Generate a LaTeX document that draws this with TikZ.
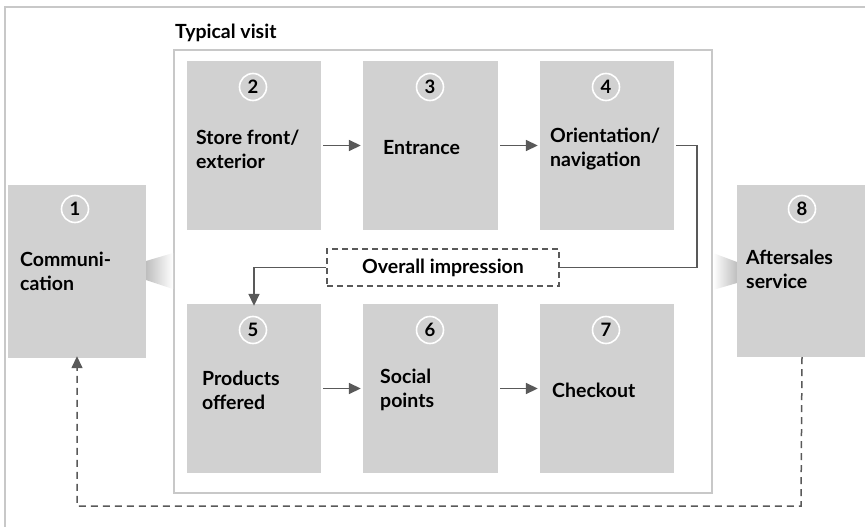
\documentclass[tikz,border=0pt]{standalone}
\usepackage{fontspec}
\setmainfont{Lato}
\usetikzlibrary{arrows.meta,calc}
\definecolor{boxgray}{HTML}{D1D1D1}
\definecolor{framegray}{HTML}{C8C8C8}
\definecolor{arrgray}{HTML}{595959}
\definecolor{fadegray}{HTML}{BEBEBE}
\tikzset{
  stepbox/.style={fill=boxgray, draw=none, minimum width=134pt, minimum height=169pt, inner sep=0pt},
  numcirc/.style={circle, draw=white, line width=1.6pt, fill=boxgray, minimum size=27pt, inner sep=0pt, font=\fontsize{18.5}{18.5}\selectfont\bfseries},
  label/.style={anchor=west, align=left, inner sep=0pt, font=\fontsize{19.5}{24}\selectfont\bfseries},
  conn/.style={draw=arrgray, line width=1.7pt},
  arr/.style={conn, -{Triangle[length=12pt,width=11pt]}},
  dasharr/.style={conn, line width=1.5pt, dash pattern=on 7pt off 5pt, -{Triangle[length=12pt,width=11pt]}},
}
\begin{document}
\begin{tikzpicture}[x=1pt,y=-1pt]
\useasboundingbox (0,0) rectangle (865,527);
% outer frame (cropped at right and bottom)
\draw[framegray, line width=1.5pt] (5,527) -- (5,7) -- (866,7);
% typical visit frame
\node[anchor=west, inner sep=0pt, font=\fontsize{19.5}{19.5}\selectfont\bfseries] (tvl) at (175,33) {Typical visit};
\node[draw=framegray, line width=1.5pt, minimum width=538pt, minimum height=443pt, inner sep=0pt] (tv) at (443,271.5) {};
% fades
\shade[left color=fadegray, right color=white] (146,261) -- (173,253) -- (173,289) -- (146,280) -- cycle;
\shade[left color=white, right color=fadegray] (713,253) -- (737,262) -- (737,283) -- (713,290) -- cycle;
% boxes
\node[stepbox, minimum width=138pt, minimum height=173pt] (b1) at (77,271.5) {};
\node[stepbox] (b2) at (254,145.5) {};
\node[stepbox, minimum width=135pt] (b3) at (430.5,145.5) {};
\node[stepbox] (b4) at (607,145.5) {};
\node[stepbox] (b5) at (254,388.5) {};
\node[stepbox, minimum width=135pt] (b6) at (430.5,388.5) {};
\node[stepbox] (b7) at (607,388.5) {};
\node[stepbox, minimum width=130pt, minimum height=172pt] (b8) at (802,271) {};
% numbers
\node[numcirc] (n1) at (75,209) {1};
\node[numcirc] (n2) at (253,87) {2};
\node[numcirc] (n3) at (430,87) {3};
\node[numcirc] (n4) at (606,87) {4};
\node[numcirc] (n5) at (253,330) {5};
\node[numcirc] (n6) at (430,330) {6};
\node[numcirc] (n7) at (606,330) {7};
\node[numcirc] (n8) at (802,209) {8};
% labels
\node[label] (t1) at (20,271) {Communi-\\cation};
\node[label] (t2) at (196,149) {Store front/\\exterior};
\node[label] (t3) at (383,148) {Entrance};
\node[label] (t4) at (550,149) {Orientation/\\navigation};
\node[label] (t5) at (202,390) {Products\\offered};
\node[label] (t6) at (380,390) {Social\\points};
\node[label] (t7) at (552,390) {Checkout};
\node[label] (t8) at (746,269.5) {Aftersales\\service};
% overall impression
\node[draw=arrgray, line width=1.4pt, dash pattern=on 6pt off 4pt, minimum width=232pt, minimum height=37pt, inner sep=0pt, font=\fontsize{19.5}{19.5}\selectfont\bfseries] (imp) at (443,267.5) {Overall impression};
% arrows
\draw[arr] ([xshift=2pt]b2.east) -- ([xshift=-2pt]b3.west);
\draw[arr] ([xshift=2pt]b3.east) -- ([xshift=-2pt]b4.west);
\draw[arr] ([xshift=2pt]b5.east) -- ([xshift=-2pt]b6.west);
\draw[arr] ([xshift=2pt]b6.east) -- ([xshift=-2pt]b7.west);
\coordinate (c4) at (697,267.5);
\draw[conn] ([xshift=2pt]b4.east) -- (b4.east -| c4) -- (c4) -- (imp.east);
\draw[arr] (imp.west) -| ([yshift=-2pt]b5.north);
\coordinate (c8) at (801,506);
\draw[dasharr] (b8.south) -- (c8) -| ([yshift=2pt]b1.south);
\end{tikzpicture}
\end{document}
